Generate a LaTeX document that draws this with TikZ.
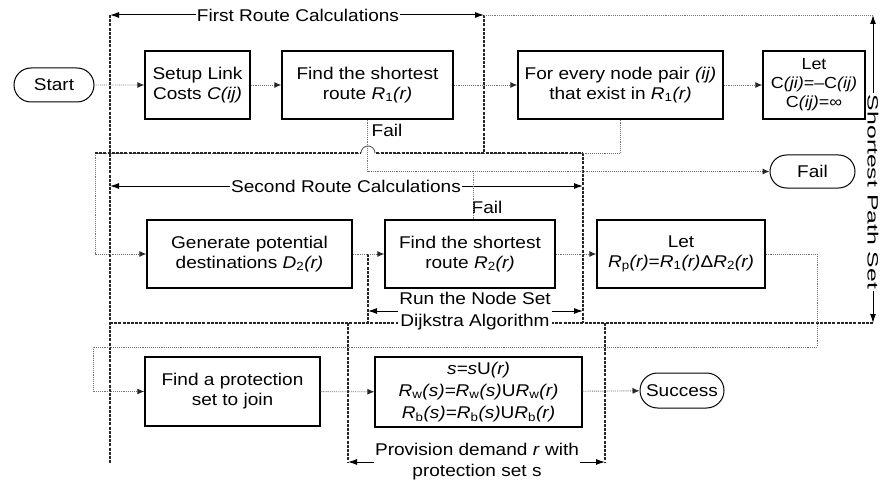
\documentclass[tikz,border=0pt]{standalone}
\usepackage{graphicx}
\usepackage{fontspec}
\setmainfont{Liberation Sans}[FakeStretch=1.12]
\usetikzlibrary{arrows.meta,shapes.misc}
\begin{document}
\begin{tikzpicture}[x=1pt,y=-1pt,
  every node/.style={font=\fontsize{17}{20}\selectfont, text=black},
  box/.style={draw=black, line width=1.4pt, align=center, inner sep=1pt, minimum height=68pt},
  term/.style={draw=black, line width=1pt, rounded rectangle, minimum height=34pt, inner sep=2pt},
  conn/.style={draw=black!55, line width=0.9pt, densely dotted, -{Latex[length=7pt,width=6pt,color=black!85]}},
  fline/.style={draw=black!55, line width=0.9pt, densely dotted},
  bound/.style={draw=black!85, line width=1.2pt, dash pattern=on 3pt off 1.2pt},
  dim/.style={draw=black, line width=1pt, -{Latex[length=9pt,width=6pt]}},
  lab/.style={inner sep=1pt, align=center}
]
\useasboundingbox (0,0) rectangle (881,484);

% coordinates of region boundaries
\coordinate (bLt) at (110,15);  \coordinate (bLb) at (110,463);
\coordinate (b1t) at (484,15);  \coordinate (b1b) at (484,153);
\coordinate (spt) at (873,15);  \coordinate (spb) at (873,323);
\coordinate (l5top) at (873,93); \coordinate (l5bot) at (873,291);
\coordinate (b2t) at (583,153); \coordinate (b2b) at (583,323);
\coordinate (hL)  at (110,323);
\coordinate (b3t) at (368,254); \coordinate (b3b) at (368,323);
\coordinate (b4t) at (348,323); \coordinate (b4b) at (348,463);
\coordinate (b5t) at (605,323); \coordinate (b5b) at (605,463);
\coordinate (c1) at (95,153);
\coordinate (c2) at (817,347);
\coordinate (c3) at (93,347);
\coordinate (j1) at (473,171.5);

% region boundaries
\draw[bound] (bLt) -- (bLb);
\draw[bound] (b1t) -- (b1b);
\draw[fline] (b1t) -- (spt);
\draw[bound] (b2t) -- (b2b);
\draw[bound] (hL) -- (spb);
\draw[bound] (b3t) -- (b3b);
\draw[bound] (b4t) -- (b4b);
\draw[bound] (b5t) -- (b5b);

% nodes
\node[term, minimum width=84pt] (start) at (54,85) {Start};
\node[box, minimum width=105pt] (setup) at (197.5,85) {Setup Link\\Costs \textit{C(ij)}};
\node[box, minimum width=171pt] (find1) at (367.5,85) {Find the shortest\\route \textit{R}\textsubscript{1}\textit{(r)}};
\node[box, minimum width=205pt] (forev) at (620.5,85) {For every node pair \textit{(ij)}\\that exist in \textit{R}\textsubscript{1}\textit{(r)}};
\node[box, minimum width=102pt, font=\fontsize{16}{19}\selectfont] (let1) at (814,85) {Let\\C\textit{(ji)}=–C\textit{(ij)}\\C\textit{(ij)}=∞};
\node[term, minimum width=89pt, minimum height=33pt] (fail) at (812.5,171.5) {Fail};
\node[box, minimum width=205pt] (gen) at (249.5,254) {Generate potential\\destinations \textit{D}\textsubscript{2}\textit{(r)}};
\node[box, minimum width=170pt] (find2) at (470,254) {Find the shortest\\route \textit{R}\textsubscript{2}\textit{(r)}};
\node[box, minimum width=168pt] (letp) at (681,254) {Let\\\textit{R}\textsubscript{p}\textit{(r)}=\textit{R}\textsubscript{1}\textit{(r)}Δ\textit{R}\textsubscript{2}\textit{(r)}};
\node[box, minimum width=175pt, minimum height=69pt] (prot) at (232.5,391.5) {Find a protection\\set to join};
\node[box, minimum width=207pt, minimum height=70pt, font=\fontsize{17}{22}\selectfont] (sbox) at (478.5,392) {\textit{s=s}U\textit{(r)}\\\textit{R}\textsubscript{w}\textit{(s)=R}\textsubscript{w}\textit{(s)}U\textit{R}\textsubscript{w}\textit{(r)}\\\textit{R}\textsubscript{b}\textit{(s)=R}\textsubscript{b}\textit{(s)}U\textit{R}\textsubscript{b}\textit{(r)}};
\node[term, minimum width=88pt, minimum height=35pt] (succ) at (682,390.5) {Success};

% labels
\node[lab] (l1) at (298,15) {First Route Calculations};
\node[lab] (l2) at (346,186) {Second Route Calculations};
\node[lab, fill=white, font=\fontsize{17}{22}\selectfont] (l3) at (475,311) {Run the Node Set\\Dijkstra Algorithm};
\node[lab, font=\fontsize{17}{21}\selectfont] (l4) at (477,462) {Provision demand \textit{r} with\\protection set s};
\node[lab, fill=white, rotate=-90] (l5) at (873,192) {\scalebox{1.3}[0.88]{Shortest Path Set}};
\node[lab] (f1) at (387,130) {Fail};
\node[lab] (f2) at (487,207) {Fail};

% dimension arrows
\draw[dim] (l1.west) -- (l1.west -| bLt);
\draw[dim] (l1.east) -- (l1.east -| b1t);
\draw[dim] (l2.west) -- (l2.west -| bLt);
\draw[dim] (l2.east) -- (l2.east -| b2t);
\draw[dim] (l3.west) -- (l3.west -| b3t);
\draw[dim] (l3.east) -- (l3.east -| b2t);
\draw[dim] (l4.west) -- (l4.west -| b4t);
\draw[dim] (l4.east) -- (l4.east -| b5t);
\draw[dim] (l5top) -- (spt);
\draw[dim] (l5bot) -- (spb);

% connectors
\draw[conn] (start) -- (setup);
\draw[conn] (setup) -- (find1);
\draw[conn] (find1) -- (forev);
\draw[conn] (forev) -- (let1);
\draw[conn] (forev.south) |- (c1) |- (gen.west);
\draw[conn] (gen) -- (find2);
\draw[conn] (find2) -- (letp);
\draw[fline] (find2.north -| j1) -- (j1);
\draw[conn] (letp.east) -| (c2) -- (c3) |- (prot.west);
\draw[conn] (prot) -- (sbox);
\draw[conn] (sbox) -- (succ);

% second route top boundary with a hop over the Fail line
\draw[bound] (c1) -- (b2t);
\fill[white] (361,150.5) rectangle (375,155.5);
\draw[draw=black!70, line width=0.8pt] (361,153) arc[start angle=180, end angle=360, radius=7];
\draw[conn] (find1.south) |- (fail.west);
\end{tikzpicture}
\end{document}
